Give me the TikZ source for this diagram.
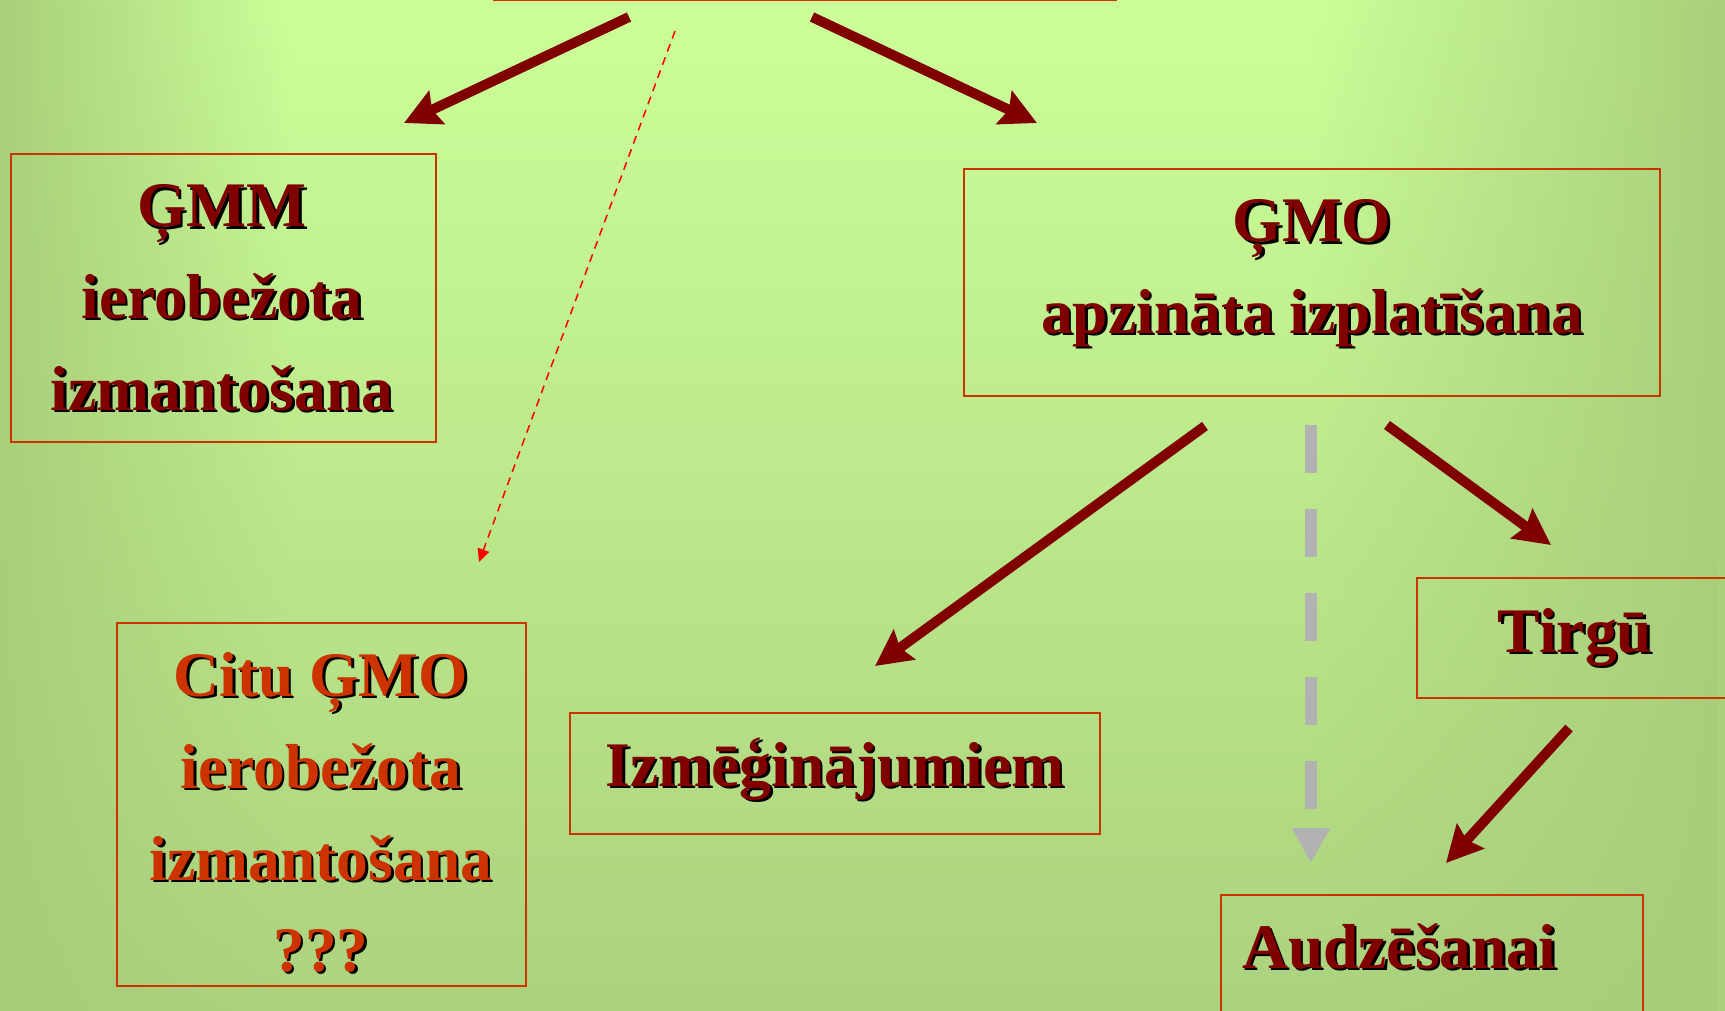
\documentclass[tikz,border=0pt]{standalone}
\usepackage{fontspec}
\setmainfont{Liberation Serif}
\usetikzlibrary{arrows.meta,fadings}
\definecolor{bgdark}{HTML}{A9D07B}
\definecolor{bglight}{HTML}{CCFF99}
\definecolor{bgbottom}{HTML}{A8CD7B}
\definecolor{maroonc}{HTML}{800000}
\definecolor{boxred}{HTML}{CC3300}
\definecolor{citured}{HTML}{CC3300}
\definecolor{grayarrow}{HTML}{B2B2B2}
\pgfdeclarehorizontalshading{bgh}{100bp}{color(0bp)=(bgdark); color(25bp)=(bgdark); color(33.5bp)=(bglight); color(63bp)=(bglight); color(75bp)=(bgdark); color(100bp)=(bgdark)}
\newcommand\stext[5]{%
  \node[lbl,#2,text=black] (#1s) at (#3+2.5,#4+2.5) {#5};
  \node[lbl,#2] (#1) at (#3,#4) {#5};
}
\begin{document}
\begin{tikzpicture}[x=1pt,y=-1pt,
  box/.style={draw=boxred, line width=2pt, rectangle, inner sep=0pt, anchor=north west},
  lbl/.style={font=\fontsize{63.5}{76}\selectfont\bfseries, inner sep=0pt, text=maroonc, anchor=base},
  mainarrow/.style={draw=maroonc, line width=10pt, -{Stealth[length=36pt,width=36pt,inset=5pt]}},
  grayarr/.style={draw=grayarrow, line width=12pt, dash pattern=on 48pt off 36pt, -{Triangle[length=35pt,width=36pt]}},
  redarr/.style={draw=red, line width=1.5pt, dash pattern=on 8pt off 6pt, -{Triangle[length=13pt,width=12pt]}}
]
\useasboundingbox (0,0) rectangle (1725,1011);
\shade[shading=bgh] (0,0) rectangle (1725,1011);
\fill[bgbottom, fill opacity=0.9, path fading=north] (0,0) rectangle (1725,1011);

% boxes
\node[box, minimum width=622pt, minimum height=80pt, anchor=south west] (top) at (493,1) {};
\node[box, minimum width=425pt, minimum height=288pt] (gmm) at (10,153) {};
\node[box, minimum width=696pt, minimum height=227pt] (gmo) at (963,168) {};
\node[box, minimum width=340pt, minimum height=120pt] (tirgu) at (1416,577) {};
\node[box, minimum width=530pt, minimum height=121pt] (izm) at (569,712) {};
\node[box, minimum width=409pt, minimum height=363pt] (citu) at (116,622) {};
\node[box, minimum width=422pt, minimum height=170pt] (audz) at (1220,894) {};

% texts
\stext{gmmA}{}{222}{227}{ĢMM}
\stext{gmmB}{}{222}{318}{ierobežota}
\stext{gmmC}{}{222}{410}{izmantošana}
\stext{gmoA}{}{1312}{242}{ĢMO}
\stext{gmoB}{}{1312}{333}{apzināta izplatīšana}
\stext{tirguA}{}{1575}{652}{Tirgū}
\stext{izmA}{}{835}{786}{Izmēģinājumiem}
\stext{cituA}{text=citured}{321}{696}{Citu ĢMO}
\stext{cituB}{text=citured}{321}{788}{ierobežota}
\stext{cituC}{text=citured}{321}{880}{izmantošana}
\stext{cituD}{text=citured}{321}{971}{???}
\stext{audzA}{anchor=base west}{1242}{968}{Audzēšanai}

% connector end points
\coordinate (t1) at (629,17);
\coordinate (t2) at (812,17);
\coordinate (t3) at (675,31);
\coordinate (h1) at (404,123);
\coordinate (h2) at (1037,123);
\coordinate (h3) at (479,562);
\coordinate (o1) at (1205,426);
\coordinate (o2) at (1311,425);
\coordinate (o3) at (1387,425);
\coordinate (e1) at (875,666);
\coordinate (e2) at (1311,863);
\coordinate (e3) at (1551,545);
\coordinate (r1) at (1569,728);
\coordinate (r2) at (1446,863);

% connectors
\draw[mainarrow] (t1) -- (h1);
\draw[mainarrow] (t2) -- (h2);
\draw[redarr] (t3) -- (h3);
\draw[mainarrow] (o1) -- (e1);
\draw[grayarr] (o2) -- (e2);
\draw[mainarrow] (o3) -- (e3);
\draw[mainarrow] (r1) -- (r2);
\end{tikzpicture}
\end{document}
